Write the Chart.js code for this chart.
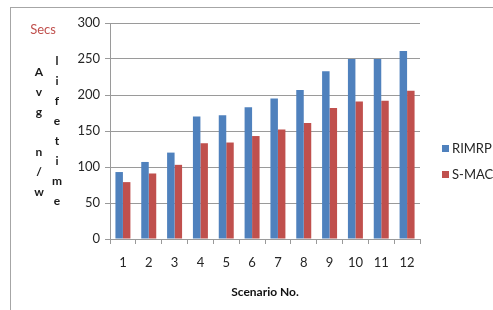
<!DOCTYPE html>
<html>
<head>
<meta charset="utf-8">
<script src="https://cdn.jsdelivr.net/npm/chart.js@4.4.1/dist/chart.umd.min.js"></script>
<style>
html, body { margin: 0; padding: 0; background: #fff; overflow: hidden; }
#wrap { position: relative; width: 493px; height: 310px; overflow: hidden; }
#main-chart { position: absolute; left: 0; top: 0; }
#frame { position: absolute; left: 10px; top: 7px; width: 520px; height: 340px; border: 1px solid #a6a6a6; pointer-events: none; }
</style>
</head>
<body>
<div id="wrap">
  <canvas id="main-chart" width="493" height="310"></canvas>
  <div id="frame"></div>
</div>
<script>
// values
const scenarios = ['1', '2', '3', '4', '5', '6', '7', '8', '9', '10', '11', '12'];
const rimrp = [93, 107, 120, 170, 172, 183, 195, 207, 233, 250, 250, 261];
const smac = [79, 91, 103, 133, 134, 143, 152, 161, 182, 191, 192, 206];
const yMin = 0, yMax = 300, yStep = 50;
const unitLabel = 'Secs';
const yLabelLeft = ['A', 'v', 'g', '', 'n', '/', 'w'];
const yLabelRight = ['l', 'i', 'f', 'e', 't', 'i', 'm', 'e'];
const xTitle = 'Scenario No.';

const FONT = 'Lato, "Open Sans", sans-serif';
const GRID = '#9a9a9a';

// stacked axis letters, "Secs" and the legend on the right
const sideText = {
  id: 'sideText',
  afterDraw(chart) {
    const ctx = chart.ctx;
    ctx.save();
    ctx.textBaseline = 'middle';
    ctx.textAlign = 'center';

    ctx.fillStyle = '#c0504d';
    ctx.font = '13px ' + FONT;
    ctx.fillText(unitLabel, 43, 30);

    ctx.fillStyle = '#1a1a1a';
    ctx.font = 'bold 12px ' + FONT;
    yLabelLeft.forEach((c, i) => ctx.fillText(c, 39, 72 + i * 20));
    yLabelRight.forEach((c, i) => ctx.fillText(c, 57, 61 + i * 20));

    // legend
    ctx.textAlign = 'left';
    ctx.font = '13px ' + FONT;
    chart.data.datasets.forEach((ds, i) => {
      const y = 149 + i * 26;
      ctx.fillStyle = ds.backgroundColor;
      ctx.fillRect(442, y - 4, 7, 7);
      ctx.fillStyle = '#262626';
      ctx.fillText(ds.label, 452, y);
    });
    ctx.restore();
  }
};

const config = {
  type: 'bar',
  data: {
    labels: scenarios,
    datasets: [{
      label: 'RIMRP',
      data: rimrp,
      backgroundColor: '#4f81bd',
      barPercentage: 1,
      categoryPercentage: 0.58
    }, {
      label: 'S-MAC',
      data: smac,
      backgroundColor: '#c0504d',
      barPercentage: 1,
      categoryPercentage: 0.58
    }]
  },
  options: {
    responsive: false,
    animation: false,
    layout: { padding: { top: 23, left: 0, right: 73, bottom: 0 } },
    plugins: {
      legend: { display: false },
      tooltip: { enabled: false }
    },
    scales: {
      x: {
        afterFit: s => { s.height = 71; },
        grid: { offset: true, drawOnChartArea: false, tickLength: 5, color: GRID },
        border: { color: GRID },
        ticks: { padding: 11, color: '#262626', font: { family: FONT, size: 13 } },
        title: {
          display: true,
          text: xTitle,
          color: '#111',
          font: { family: FONT, size: 12, weight: 'bold' },
          padding: { top: 0, bottom: 11 }
        }
      },
      y: {
        min: yMin,
        max: yMax,
        afterFit: s => { s.width = 110; },
        grid: { color: GRID, tickLength: 5 },
        border: { color: GRID },
        ticks: { stepSize: yStep, padding: 5, color: '#262626', font: { family: FONT, size: 13 } }
      }
    }
  },
  plugins: [sideText]
};

const myChart = new Chart(document.getElementById('main-chart'), config);
</script>
</body>
</html>
